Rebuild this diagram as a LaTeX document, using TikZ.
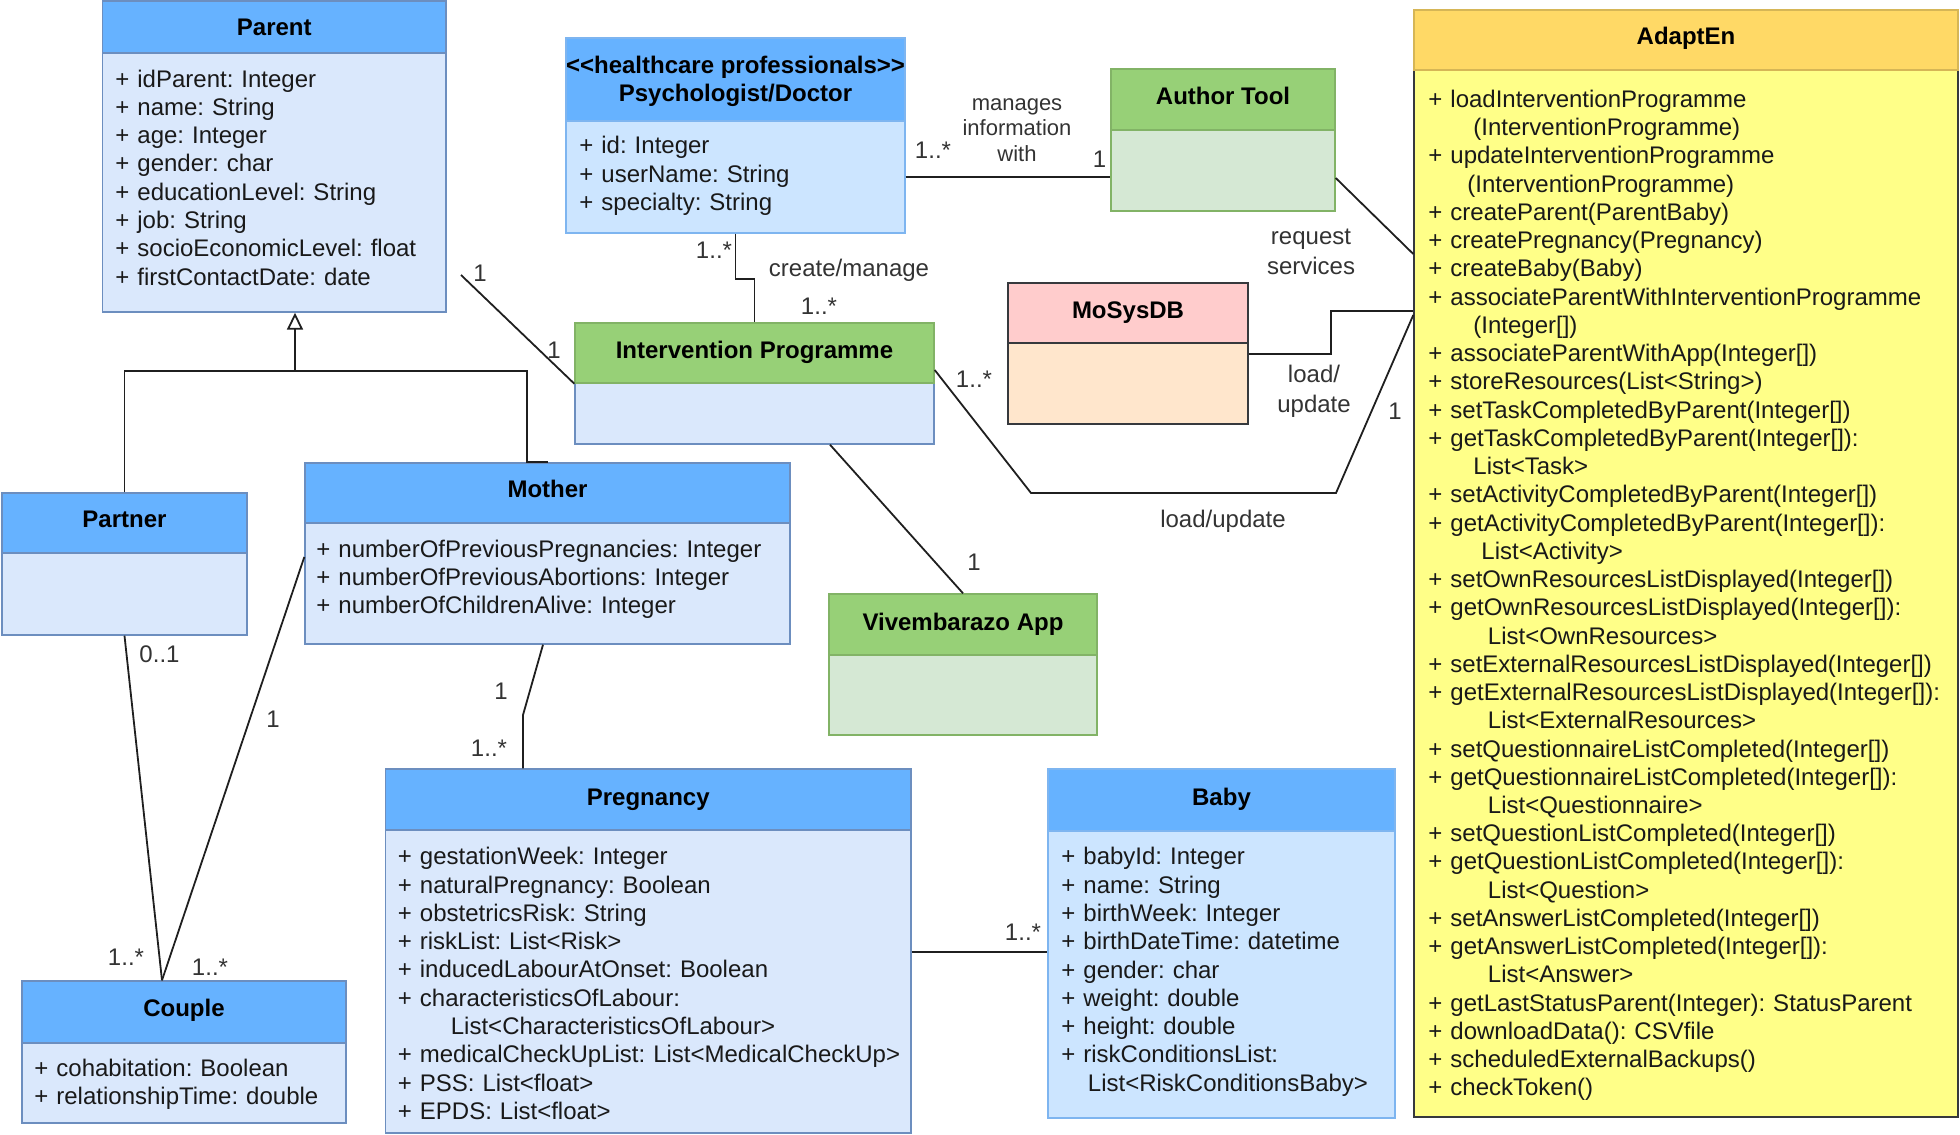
\documentclass[tikz,border=0pt]{standalone}
\usepackage{fontspec}
\setmainfont{Liberation Sans}
\usetikzlibrary{fit,arrows.meta,calc}
\frenchspacing

\definecolor{bluehead}{HTML}{66B2FF}
\definecolor{bluebody}{HTML}{DAE8FC}
\definecolor{bluebodyb}{HTML}{CCE5FF}
\definecolor{blueline}{HTML}{6C8EBF}
\definecolor{bluelineb}{HTML}{7EB5F0}
\definecolor{greenhead}{HTML}{97D077}
\definecolor{greenbody}{HTML}{D5E8D4}
\definecolor{greenline}{HTML}{82B366}
\definecolor{redhead}{HTML}{FFCCCC}
\definecolor{orangebody}{HTML}{FFE6CC}
\definecolor{darkline}{HTML}{36393D}
\definecolor{yellowhead}{HTML}{FFD966}
\definecolor{yellowbody}{HTML}{FFFF88}
\definecolor{yellowline}{HTML}{D6B656}
\definecolor{labelgray}{HTML}{333333}

\tikzset{
  boxline/.style={line width=0.7pt},
  hblue/.style={boxline, draw=blueline, fill=bluehead},
  bblue/.style={boxline, draw=blueline, fill=bluebody},
  hblueb/.style={boxline, draw=bluelineb, fill=bluehead},
  bblueb/.style={boxline, draw=bluelineb, fill=bluebodyb},
  hgreen/.style={boxline, draw=greenline, fill=greenhead},
  bgreen/.style={boxline, draw=greenline, fill=greenbody},
  hred/.style={boxline, draw=darkline, fill=redhead},
  borange/.style={boxline, draw=darkline, fill=orangebody},
  hyellow/.style={boxline, draw=yellowline, fill=yellowhead},
  byellow/.style={boxline, draw=darkline, fill=yellowbody},
  titlef/.style={font=\fontsize{12}{14}\selectfont\bfseries, align=center, inner sep=0pt, text=black},
  ttl/.style={titlef, anchor=base},
  attr/.style={anchor=base west, inner sep=0pt, align=left, text width=#1,
    font=\fontsize{12}{14.15}\selectfont, text=black!90},
  lab/.style={font=\fontsize{12}{15}\selectfont, text=labelgray, inner sep=0pt, align=center},
  conn/.style={draw=black!88, line width=0.9pt},
}

% name, x1, y1, x2, y(header bottom), y2, header style, body style
\newcommand\umlbox[8]{%
  \node[fit={(#2,#5) (#4,#6)}, inner sep=0pt, #8] (#1b) {};
  \node[fit={(#2,#3) (#4,#5)}, inner sep=0pt, #7] (#1h) {};
}

\begin{document}
\begin{tikzpicture}[x=0.5pt,y=-0.5pt]
\useasboundingbox (0,0) rectangle (1960,1135);

% ---------- classes ----------
\umlbox{par}{102.5}{1}{446}{53}{312}{hblue}{bblue}
\node[ttl] (part) at (274.25,35.6) {Parent};
\node[attr=165pt] (parA) at (115,87) {+ idParent: Integer\\+ name: String\\+ age: Integer\\+ gender: char\\+ educationLevel: String\\+ job: String\\+ socioEconomicLevel: float\\+ firstContactDate: date};

\umlbox{psy}{566}{38}{905}{121}{233}{hblueb}{bblueb}
\node[titlef] (psyt) at (735.5,81.5) {<\kern0pt<healthcare professionals>\kern0pt>\\Psychologist/Doctor};
\node[attr=160pt] (psyA) at (579,153.7) {+ id: Integer\\+ userName: String\\+ specialty: String};

\umlbox{aut}{1111}{69}{1335}{130}{211}{hgreen}{bgreen}
\node[ttl] (autt) at (1223,104.8) {Author Tool};

\umlbox{ip}{575}{323}{934}{383}{444}{hgreen}{bblue}
\node[ttl] (ipt) at (754.5,358.6) {Intervention Programme};

\umlbox{mos}{1008}{283}{1248}{343}{424}{hred}{borange}
\node[ttl] (most) at (1128,318.6) {MoSysDB};

\umlbox{ada}{1414}{10}{1958}{70}{1117}{hyellow}{byellow}
\node[ttl] (adat) at (1686,44.6) {AdaptEn};
\node[attr=265pt, font=\fontsize{12}{14.12}\selectfont] (adaA) at (1428,107.5) {%
+ loadInterventionProgramme\\
\hspace*{22.5pt}(InterventionProgramme)\\
+ updateInterventionProgramme\\
\hspace*{19.5pt}(InterventionProgramme)\\
+ createParent(ParentBaby)\\
+ createPregnancy(Pregnancy)\\
+ createBaby(Baby)\\
+ associateParentWithInterventionProgramme\\
\hspace*{22.5pt}(Integer[])\\
+ associateParentWithApp(Integer[])\\
+ storeResources(List<String>)\\
+ setTaskCompletedByParent(Integer[])\\
+ getTaskCompletedByParent(Integer[]):\\
\hspace*{22.5pt}List<Task>\\
+ setActivityCompletedByParent(Integer[])\\
+ getActivityCompletedByParent(Integer[]):\\
\hspace*{26.5pt}List<Activity>\\
+ setOwnResourcesListDisplayed(Integer[])\\
+ getOwnResourcesListDisplayed(Integer[]):\\
\hspace*{29.75pt}List<OwnResources>\\
+ setExternalResourcesListDisplayed(Integer[])\\
+ getExternalResourcesListDisplayed(Integer[]):\\
\hspace*{29.75pt}List<ExternalResources>\\
+ setQuestionnaireListCompleted(Integer[])\\
+ getQuestionnaireListCompleted(Integer[]):\\
\hspace*{29.75pt}List<Questionnaire>\\
+ setQuestionListCompleted(Integer[])\\
+ getQuestionListCompleted(Integer[]):\\
\hspace*{29.75pt}List<Question>\\
+ setAnswerListCompleted(Integer[])\\
+ getAnswerListCompleted(Integer[]):\\
\hspace*{29.75pt}List<Answer>\\
+ getLastStatusParent(Integer): StatusParent\\
+ downloadData(): CSVfile\\
+ scheduledExternalBackups()\\
+ checkToken()};

\umlbox{ptn}{2}{493}{247}{553}{635}{hblue}{bblue}
\node[ttl] (ptnt) at (124.5,527.6) {Partner};

\umlbox{mot}{305}{463}{790}{523}{644}{hblue}{bblue}
\node[ttl] (mott) at (547.5,497.6) {Mother};
\node[attr=235pt] (motA) at (316,557) {+ numberOfPreviousPregnancies: Integer\\+ numberOfPreviousAbortions: Integer\\+ numberOfChildrenAlive: Integer};

\umlbox{viv}{829}{594}{1097}{655}{735}{hgreen}{bgreen}
\node[ttl] (vivt) at (963,630) {Vivembarazo App};

\umlbox{prg}{385.5}{769}{911}{830}{1133}{hblue}{bblue}
\node[ttl] (prgt) at (648.25,805.2) {Pregnancy};
\node[attr=270pt] (prgA) at (397.5,864.7) {+ gestationWeek: Integer\\+ naturalPregnancy: Boolean\\+ obstetricsRisk: String\\+ riskList: List<Risk>\\+ inducedLabourAtOnset: Boolean\\+ characteristicsOfLabour:\\\hspace*{26.5pt}List<CharacteristicsOfLabour>\\+ medicalCheckUpList: List<MedicalCheckUp>\\+ PSS: List<float>\\+ EPDS: List<float>};

\umlbox{bab}{1048}{769}{1395}{831}{1118}{hblueb}{bblueb}
\node[ttl] (babt) at (1221.5,805.2) {Baby};
\node[attr=170pt] (babA) at (1061,864.8) {+ babyId: Integer\\+ name: String\\+ birthWeek: Integer\\+ birthDateTime: datetime\\+ gender: char\\+ weight: double\\+ height: double\\+ riskConditionsList:\\\hspace*{13.25pt}List<RiskConditionsBaby>};

\umlbox{cpl}{22}{981}{346}{1043}{1123}{hblue}{bblue}
\node[ttl] (cplt) at (184,1016.6) {Couple};
\node[attr=155pt] (cplA) at (34,1076.3) {+ cohabitation: Boolean\\+ relationshipTime: double};

% ---------- helper coordinates ----------
\coordinate (gA) at (124.5,371);
\coordinate (gB) at (527,371);
\coordinate (gC) at (295,371);
\coordinate (pIPs) at (461,275);
\coordinate (ipvx) at (830,0);
\coordinate (iaY) at (0,370);
\coordinate (iaA) at (1031,493);
\coordinate (iaB) at (1336,493);
\coordinate (iaZ) at (0,315);
\coordinate (mA) at (1330.6,354);
\coordinate (mB) at (1330.6,311);
\coordinate (aA) at (1334.6,178);
\coordinate (aB) at (1414,254);
\coordinate (cTop) at (162,981);
\coordinate (mcY) at (0,557);
\coordinate (mpX) at (543,0);
\coordinate (mpB) at (523,715);
\coordinate (pbY) at (0,952);

% ---------- connectors ----------
% generalisation
\draw[conn] (ptnh.north) -- (ptnh.north |- gA) -- (gB) -- (gB |- moth.north) -- (moth.north);
\draw[conn, -{Triangle[open, length=8.5pt, width=8pt]}] (gC) -- (gC |- parb.south);

% Parent - Intervention Programme
\draw[conn] (pIPs) -- (iph.south west);
\node[lab] (l1) at (480,273) {1};
\node[lab] (l2) at (554,350) {1};

% Psychologist - Author Tool
\draw[conn] (psyb.east) -- (psyb.east -| autb.west);
\node[lab] (l3) at (933,150) {1..*};
\node[lab, font=\fontsize{11}{12.75}\selectfont] (l4) at (1017,130) {manages\\information\\with};
\node[lab] (l5) at (1099.5,159) {1};

% Psychologist - Intervention Programme
\draw[conn] (psyb.south) -- ++(0,45) -| (iph.north);
\node[lab] (l6) at (714,250) {1..*};
\node[lab] (l7) at (849,270) {create/manage};
\node[lab] (l8) at (819,306) {1..*};

% Author Tool - AdaptEn
\draw[conn] (autb.east |- aA) -- (adab.west |- aB);
\node[lab] (l9) at (1311,252) {request\\services};

% MoSysDB - AdaptEn
\draw[conn] (mosb.east |- mA) -- (mA) -- (mB) -- (adab.west |- mB);
\node[lab] (l10) at (1314,391.5) {load/\\update};

% Intervention Programme - AdaptEn
\draw[conn] (iph.east |- iaY) -- (iaA) -- (iaB) -- (adab.west |- iaZ);
\node[lab] (l11) at (974,379) {1..*};
\node[lab] (l12) at (1223,521.7) {load/update};
\node[lab] (l13) at (1395,411) {1};

% Intervention Programme - Vivembarazo App
\draw[conn] (ipb.south -| ipvx) -- (vivh.north);
\node[lab] (l14) at (974,562) {1};

% Partner / Mother - Couple
\draw[conn] (ptnb.south) -- (cplh.north -| cTop);
\draw[conn] (motb.west |- mcY) -- (cplh.north -| cTop);
\node[lab] (l15) at (159.5,654) {0..1};
\node[lab] (l16) at (273,719) {1};
\node[lab] (l17) at (126,957) {1..*};
\node[lab] (l18) at (210,967) {1..*};

% Mother - Pregnancy
\draw[conn] (motb.south -| mpX) -- (mpB) -- (prgh.north -| mpB);
\node[lab] (l19) at (501,691) {1};
\node[lab] (l20) at (489,748) {1..*};

% Pregnancy - Baby
\draw[conn] (prgb.east |- pbY) -- (babb.west |- pbY);
\node[lab] (l21) at (1023,932) {1..*};

\end{tikzpicture}
\end{document}
